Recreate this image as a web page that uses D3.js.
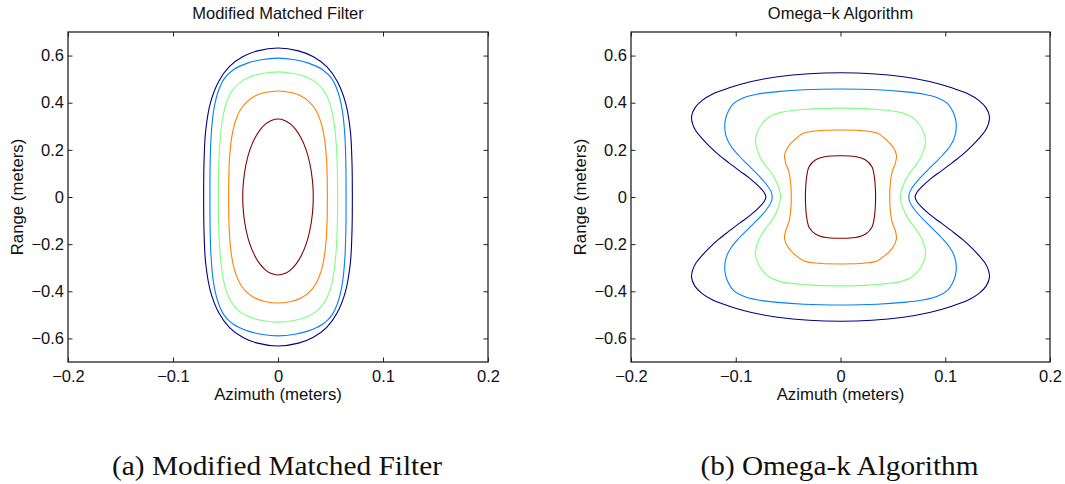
<!DOCTYPE html>
<html>
<head>
<meta charset="utf-8">
<script src="https://cdn.jsdelivr.net/npm/d3@7"></script>
<style>
  html, body { margin: 0; padding: 0; background: #fff; }
  svg { display: block; }
  .tick text { font-family: "Liberation Sans", Arial, Helvetica, sans-serif; }
</style>
</head>
<body>
<svg id="chart" width="1065" height="484"></svg>
<script>
// ---- axis ticks ----
const xTicks = [-0.2, -0.1, 0, 0.1, 0.2];
const yTicks = [-0.6, -0.4, -0.2, 0, 0.2, 0.4, 0.6];
const xDomain = [-0.2, 0.2];
const yDomain = [-0.7, 0.7];

// ---- contour levels (outer to inner), jet colour map ----
const levelColors = ["#000080", "#0080ff", "#80ff80", "#ff8000", "#800000"];

// Each contour is symmetric in both axes; listed here is its first-quadrant
// profile as [azimuth, range] pairs, from the top (azimuth 0) to the side (range 0).
const mmfContours = [
  [[0, 0.632], [0.0195, 0.62], [0.0337, 0.595], [0.0464, 0.553], [0.0565, 0.49], [0.0643, 0.40], [0.0689, 0.28], [0.0705, 0.14], [0.0708, 0]],
  [[0, 0.589], [0.016, 0.582], [0.029, 0.568], [0.0425, 0.54], [0.0515, 0.50], [0.0575, 0.44], [0.0615, 0.36], [0.0638, 0.25], [0.0647, 0.12], [0.0648, 0]],
  [[0, 0.531], [0.015, 0.524], [0.0265, 0.51], [0.0365, 0.485], [0.0437, 0.45], [0.0492, 0.40], [0.0528, 0.33], [0.0552, 0.24], [0.0565, 0.12], [0.0568, 0]],
  [[0, 0.45], [0.0125, 0.443], [0.0215, 0.43], [0.0295, 0.405], [0.0358, 0.37], [0.0407, 0.32], [0.0442, 0.25], [0.0462, 0.16], [0.0469, 0.07], [0.047, 0]],
  [[0, 0.331], [0.0063, 0.325], [0.0118, 0.31], [0.0171, 0.285], [0.022, 0.25], [0.0268, 0.20], [0.0304, 0.14], [0.0328, 0.07], [0.0336, 0]]
];

const omegaKContours = [
  [[0, 0.527], [0.03, 0.523], [0.06, 0.51], [0.085, 0.49], [0.107, 0.462], [0.122, 0.437], [0.132, 0.41], [0.139, 0.378], [0.1422, 0.341], [0.1412, 0.31], [0.138, 0.28], [0.1325, 0.25], [0.125, 0.215], [0.1165, 0.18], [0.1065, 0.145], [0.096, 0.11], [0.086, 0.077], [0.078, 0.045], [0.073, 0.02], [0.0712, 0]],
  [[0, 0.458], [0.035, 0.455], [0.06, 0.447], [0.08, 0.436], [0.093, 0.42], [0.102, 0.397], [0.107, 0.365], [0.1098, 0.33], [0.1105, 0.295], [0.109, 0.255], [0.1045, 0.215], [0.097, 0.175], [0.088, 0.135], [0.079, 0.095], [0.071, 0.055], [0.0665, 0.025], [0.0652, 0]],
  [[0, 0.377], [0.03, 0.373], [0.058, 0.358], [0.0695, 0.335], [0.0765, 0.30], [0.0802, 0.265], [0.0812, 0.235], [0.0795, 0.20], [0.0765, 0.168], [0.071, 0.13], [0.065, 0.095], [0.0598, 0.05], [0.0572, 0]],
  [[0, 0.284], [0.0264, 0.279], [0.0355, 0.27], [0.0423, 0.249], [0.050, 0.213], [0.0534, 0.178], [0.0525, 0.145], [0.0493, 0.107], [0.0474, 0.05], [0.047, 0]],
  [[0, 0.175], [0.014, 0.172], [0.024, 0.157], [0.030, 0.128], [0.0325, 0.08], [0.0333, 0.035], [0.0335, 0]]
];

const panelTitles = ["Modified Matched Filter", "Omega\u2212k Algorithm"];
const captions = ["(a) Modified Matched Filter", "(b) Omega-k Algorithm"];
const xLabel = "Azimuth (meters)";
const yLabel = "Range (meters)";

// ---- layout ----
const svg = d3.select("#chart");
const sans = '"Liberation Sans", Arial, Helvetica, sans-serif';
const panels = [
  { left: 68, right: 488, contours: mmfContours, title: panelTitles[0], caption: captions[0], capLen: 330, yLabelX: 23 },
  { left: 631, right: 1050, contours: omegaKContours, title: panelTitles[1], caption: captions[1], capLen: 278, yLabelX: 586 }
];
const plotTop = 32, plotBottom = 362;
const tickLen = 4.5;

const fmt = d => d === 0 ? "0" : (d < 0 ? "\u2212" : "") + String(Math.abs(d));

// mirror a first-quadrant profile into a full closed outline
function fullOutline(q) {
  const right = q.concat(q.slice(0, -1).reverse().map(([x, y]) => [x, -y]));
  const left = right.slice(1, -1).reverse().map(([x, y]) => [-x, y]);
  return right.concat(left);
}

panels.forEach(p => {
  const x = d3.scaleLinear().domain(xDomain).range([p.left, p.right]);
  const y = d3.scaleLinear().domain(yDomain).range([plotBottom, plotTop]);
  const g = svg.append("g");

  // contours
  const line = d3.line()
    .x(d => x(d[0]))
    .y(d => y(d[1]))
    .curve(d3.curveCatmullRomClosed.alpha(0.5));
  g.selectAll("path.contour")
    .data(p.contours)
    .join("path")
    .attr("class", "contour")
    .attr("d", d => line(fullOutline(d)))
    .attr("fill", "none")
    .attr("stroke", (d, i) => levelColors[i])
    .attr("stroke-width", 1.1);

  // axes with inward ticks
  const axisStyle = sel => {
    sel.select(".domain").remove();
    sel.selectAll(".tick line").attr("stroke", "#222").attr("stroke-width", 1);
    sel.selectAll(".tick text").attr("fill", "#111").style("font-size", "16.5px");
  };
  g.append("g").attr("transform", `translate(0,${plotBottom})`)
    .call(d3.axisBottom(x).tickValues(xTicks).tickFormat(fmt).tickSize(-tickLen).tickPadding(8.5))
    .call(axisStyle);
  g.append("g").attr("transform", `translate(0,${plotTop})`)
    .call(d3.axisTop(x).tickValues(xTicks).tickFormat("").tickSize(-tickLen))
    .call(axisStyle);
  g.append("g").attr("transform", `translate(${p.left},0)`)
    .call(d3.axisLeft(y).tickValues(yTicks).tickFormat(fmt).tickSize(-tickLen).tickPadding(4))
    .call(axisStyle);
  g.append("g").attr("transform", `translate(${p.right},0)`)
    .call(d3.axisRight(y).tickValues(yTicks).tickFormat("").tickSize(-tickLen))
    .call(axisStyle);

  // frame
  g.append("rect")
    .attr("x", p.left).attr("y", plotTop)
    .attr("width", p.right - p.left).attr("height", plotBottom - plotTop)
    .attr("fill", "none").attr("stroke", "#222").attr("stroke-width", 1.3);

  const cx = (p.left + p.right) / 2;
  // title
  g.append("text")
    .attr("x", cx).attr("y", 19)
    .attr("text-anchor", "middle")
    .style("font-family", sans).style("font-size", "16.5px").attr("fill", "#111")
    .text(p.title);
  // x label
  g.append("text")
    .attr("x", cx).attr("y", 399.5)
    .attr("text-anchor", "middle")
    .style("font-family", sans).style("font-size", "16.8px").attr("fill", "#111")
    .text(xLabel);
  // y label
  g.append("text")
    .attr("transform", `translate(${p.yLabelX},${(plotTop + plotBottom) / 2}) rotate(-90)`)
    .attr("text-anchor", "middle")
    .style("font-family", sans).style("font-size", "16.8px").attr("fill", "#111")
    .text(yLabel);
  // caption
  g.append("text")
    .attr("x", cx - 1).attr("y", 474.7)
    .attr("text-anchor", "middle")
    .attr("textLength", p.capLen).attr("lengthAdjust", "spacingAndGlyphs")
    .style("font-family", '"Liberation Serif", "Times New Roman", serif')
    .style("font-size", "27.5px").attr("fill", "#111")
    .text(p.caption);
});
</script>
</body>
</html>
